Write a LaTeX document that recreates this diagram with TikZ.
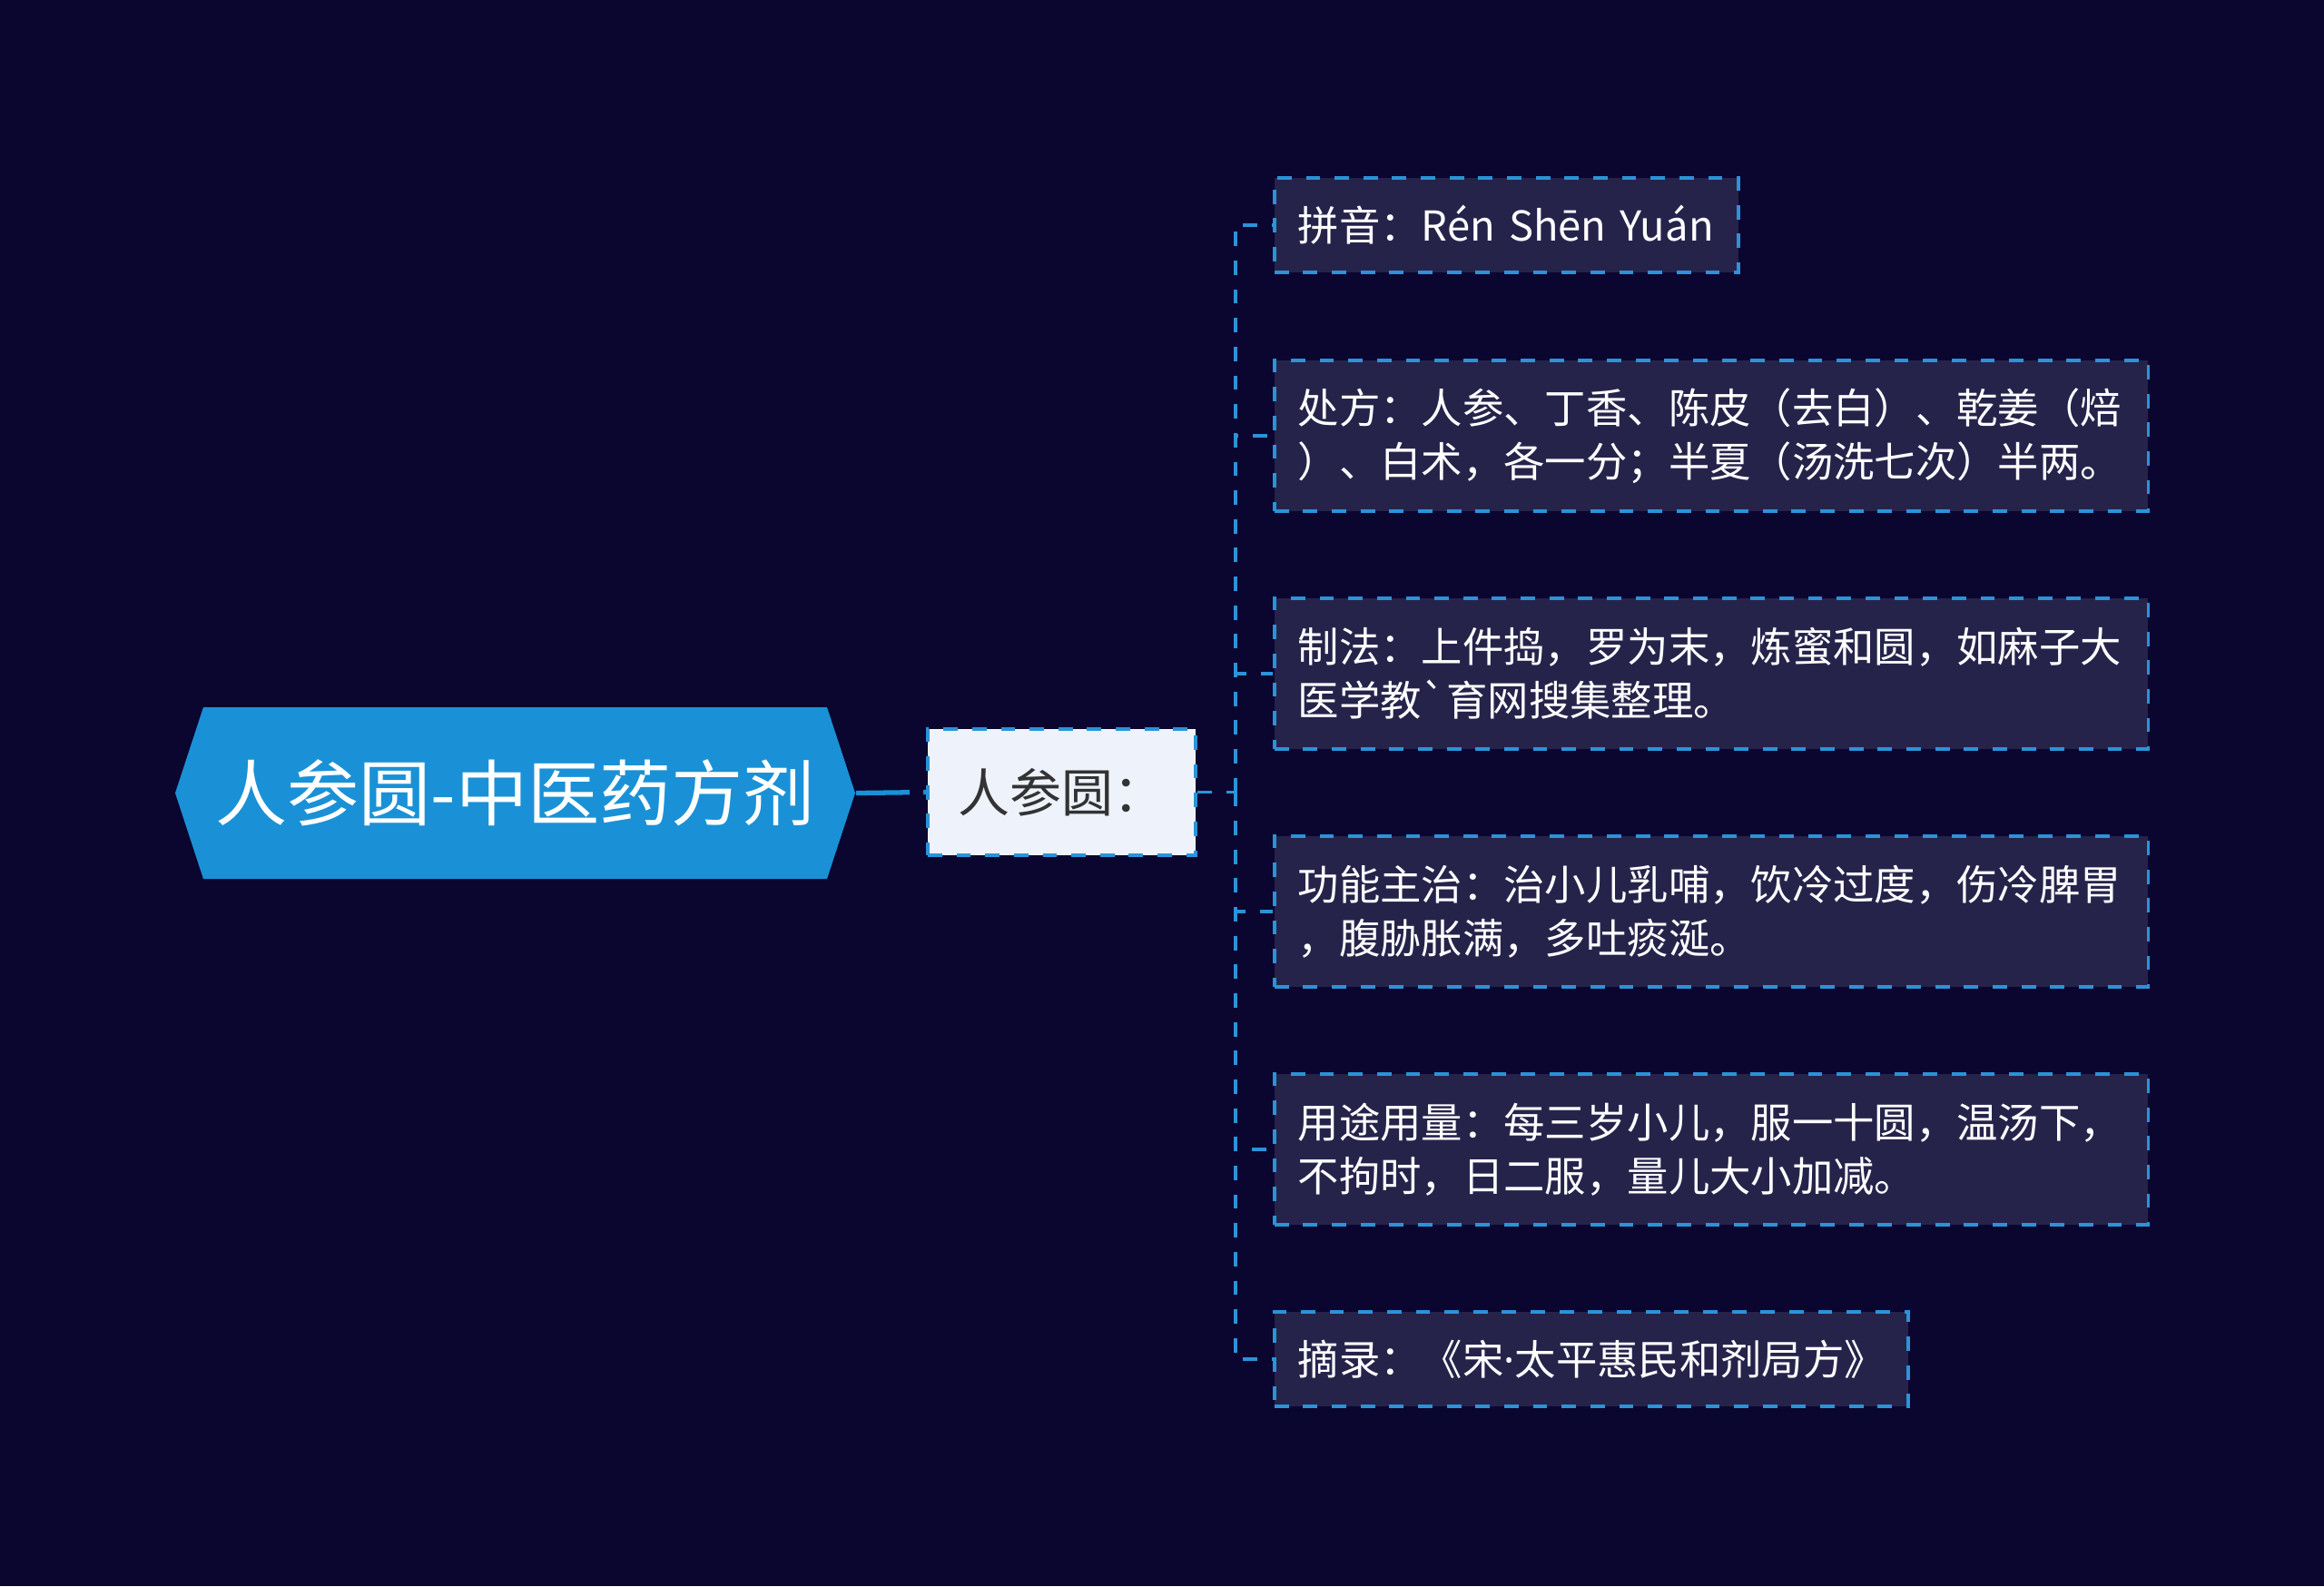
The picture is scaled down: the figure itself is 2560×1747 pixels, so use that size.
\documentclass[tikz,border=0pt]{standalone}
\usepackage{fontspec}
\newfontfamily\cjk{Noto Sans CJK SC}
\newfontfamily\latinfont{Noto Sans}
\usepackage{tikz}
\usetikzlibrary{positioning}
\usepackage{xcolor}

\definecolor{bgnavy}{HTML}{0A0630}
\definecolor{rootblue}{HTML}{1A91D6}
\definecolor{linkblue}{HTML}{2B93D8}
\definecolor{leaffill}{HTML}{26234B}
\definecolor{subfill}{HTML}{EEF3FB}
\definecolor{subtext}{HTML}{333333}

\tikzset{
  link/.style={draw=linkblue, line width=1pt, dash pattern=on 4.5pt off 4.5pt},
  rootlink/.style={draw=rootblue, line width=1.5pt, dash pattern=on 16.8pt off 4.3pt},
  leaf/.style={link, fill=leaffill, text=white, anchor=west, align=left,
    font=\cjk\fontsize{12.9}{16.8}\selectfont, inner xsep=0.26cm, inner ysep=0pt},
  leafwide/.style={leaf, text width=9.1cm, minimum height=1.66cm},
  leafone/.style={leaf, minimum height=1.04cm},
}

\begin{document}
\begin{tikzpicture}[x=0.01cm, y=-0.01cm]
\useasboundingbox (0,0) rectangle (2560,1747);
\fill[bgnavy] (0,0) rectangle (2560,1747);% the canvas

% the root
\fill[rootblue] (193,873.5)--(224,779)--(911,779)--(942,873.5)--(911,968)--(224,968)--cycle;
\node (root) at (567.5,873.5) [minimum width=7.49cm, minimum height=1.89cm, inner sep=0pt,
  text=white, font=\cjk\fontsize{22.5}{27}\selectfont] {人参圆-中医药方剂};

% the sub topic
\node (sub) at (1169.5,872.5) [link, fill=subfill, text=subtext, minimum width=2.95cm,
  minimum height=1.39cm, inner sep=0pt, font=\cjk\fontsize{16.2}{20}\selectfont] {人参圆：};
\coordinate[right=0.42cm of sub.east] (fork);

% the leaves
\node[leafone, text width=4.59cm] (c1) at (1402,248) {拼音：Rén Shēn Yuán};
\node[leafwide] (c2) at (1402,480) {处方：人参、丁香、陈皮（去白）、乾姜（焙\\）、白术，各一分；半夏（汤洗七次）半两。};
\node[leafwide] (c3) at (1402,742) {制法：上件捣，罗为末，炼蜜和圆，如麻子大\\医学教`育网搜集整理。};
\node[leafwide] (c4) at (1402,1004) {功能主治：治小儿乳哺，饮冷过度，伤冷脾胃\\，腹胁胀满，多吐痰涎。};
\node[leafwide] (c5) at (1402,1266) {用途用量：每三岁小儿，服一十圆，温汤下，\\不拘时，日二服，量儿大小加减。};
\node[leafone, text width=6.46cm] (c6) at (1402,1497) {摘录：《宋{\latinfont ·}太平惠民和剂局方》};

% connectors
\draw[rootlink] (root.east) -- (sub.west);
\draw[link] (sub.east) -- (fork);
\foreach \c in {c1,c2,c3,c4,c5,c6}
  \draw[link] (fork) |- (\c.west);

\end{tikzpicture}
\end{document}
